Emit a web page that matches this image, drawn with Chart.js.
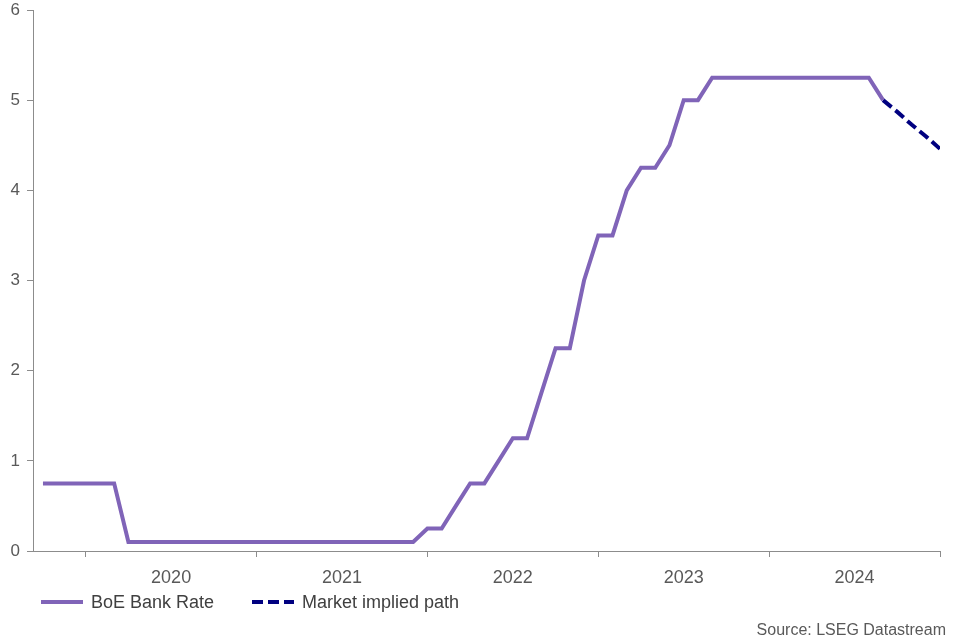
<!DOCTYPE html>
<html>
<head>
<meta charset="utf-8">
<script src="https://cdn.jsdelivr.net/npm/chart.js@4/dist/chart.umd.min.js"></script>
<style>
    html, body { margin: 0; padding: 0; background: #fff; }
    body { width: 960px; height: 640px; position: relative; overflow: hidden; font-family: "Liberation Sans", Arial, sans-serif; }
    #wrap { position: absolute; left: 0; top: 0; width: 960px; height: 640px; }
    .leg { position: absolute; top: 591px; height: 22px; display: flex; align-items: center; font-size: 18px; color: #404040; white-space: nowrap; }
    .leg svg { margin-right: 8px; }
    #source { position: absolute; right: 14px; top: 621px; font-size: 16px; color: #595959; }
</style>
</head>
<body>
<div id="wrap"><canvas id="chart" width="960" height="640"></canvas></div>
<div class="leg" style="left:41px">
    <svg width="42" height="6"><line x1="0" y1="3" x2="42" y2="3" stroke="#8064b8" stroke-width="4"/></svg>BoE Bank Rate
</div>
<div class="leg" style="left:252px">
    <svg width="42" height="6"><line x1="0" y1="3" x2="42" y2="3" stroke="#000080" stroke-width="4" stroke-dasharray="11 5"/></svg>Market implied path
</div>
<div id="source">Source: LSEG Datastream</div>

<script>
// months counted from Jan 2020 = 0
const years = ['2020', '2021', '2022', '2023', '2024'];

// BoE Bank Rate, monthly, Oct 2019 .. Sep 2024
const bankRateFirstMonth = -3;
const bankRate = [
    0.75, 0.75, 0.75,                                                   // 2019 Oct-Dec
    0.75, 0.75, 0.75, 0.1, 0.1, 0.1, 0.1, 0.1, 0.1, 0.1, 0.1, 0.1,      // 2020
    0.1, 0.1, 0.1, 0.1, 0.1, 0.1, 0.1, 0.1, 0.1, 0.1, 0.1, 0.1,         // 2021
    0.25, 0.25, 0.5, 0.75, 0.75, 1.0, 1.25, 1.25, 1.75, 2.25, 2.25, 3.0, // 2022
    3.5, 3.5, 4.0, 4.25, 4.25, 4.5, 5.0, 5.0, 5.25, 5.25, 5.25, 5.25,   // 2023
    5.25, 5.25, 5.25, 5.25, 5.25, 5.25, 5.25, 5.25, 5.0                 // 2024 Jan-Sep
];

// Market implied path, Sep 2024 .. Jan 2025
const marketFirstMonth = 56;
const marketPath = [5.0, 4.87, 4.73, 4.6, 4.46];

const yTicks = [0, 1, 2, 3, 4, 5, 6];

const toPoints = (first, arr) => arr.map((v, i) => ({ x: first + i, y: v }));

const axisGrey = '#8c8c8c';
const textGrey = '#595959';
const fontFamily = '"Liberation Sans", Arial, sans-serif';

new Chart(document.getElementById('chart'), {
    type: 'line',
    data: {
        datasets: [
            {
                label: 'BoE Bank Rate',
                data: toPoints(bankRateFirstMonth, bankRate),
                borderColor: '#8064b8',
                borderWidth: 4,
                pointRadius: 0,
                tension: 0
            },
            {
                label: 'Market implied path',
                data: toPoints(marketFirstMonth, marketPath),
                borderColor: '#000080',
                borderWidth: 4,
                borderDash: [11, 5],
                pointRadius: 0,
                tension: 0
            }
        ]
    },
    options: {
        responsive: false,
        animation: false,
        events: [],
        layout: { padding: { left: 0, right: 20, top: 10, bottom: 51 } },
        plugins: { legend: { display: false }, tooltip: { enabled: false } },
        scales: {
            x: {
                type: 'linear',
                min: -3.7,
                max: 60,
                afterBuildTicks: s => { s.ticks = years.map((y, i) => ({ value: i * 12 })).concat([{ value: 60 }]); },
                afterFit: s => { s.height = 6; },
                border: { display: true, color: axisGrey, width: 1 },
                grid: { drawOnChartArea: false, drawTicks: true, tickLength: 6, color: axisGrey },
                ticks: { display: false }
            },
            x2: {
                type: 'linear',
                position: 'bottom',
                min: -3.7,
                max: 60,
                afterBuildTicks: s => { s.ticks = years.map((y, i) => ({ value: i * 12 + 6 })); },
                afterFit: s => { s.height = 32; },
                border: { display: false },
                grid: { display: false, drawTicks: false },
                ticks: {
                    padding: 10,
                    maxRotation: 0,
                    color: textGrey,
                    font: { family: fontFamily, size: 18 },
                    callback: v => years[Math.round((v - 6) / 12)]
                }
            },
            y: {
                min: 0,
                max: 6,
                afterBuildTicks: s => { s.ticks = yTicks.map(v => ({ value: v })); },
                afterFit: s => { s.width = 33; s.paddingTop = 0; s.paddingBottom = 0; },
                border: { display: true, color: axisGrey, width: 1 },
                grid: { drawOnChartArea: false, drawTicks: true, tickLength: 6, color: axisGrey },
                ticks: { padding: 7, color: textGrey, font: { family: fontFamily, size: 17 } }
            }
        }
    }
});
</script>
</body>
</html>
